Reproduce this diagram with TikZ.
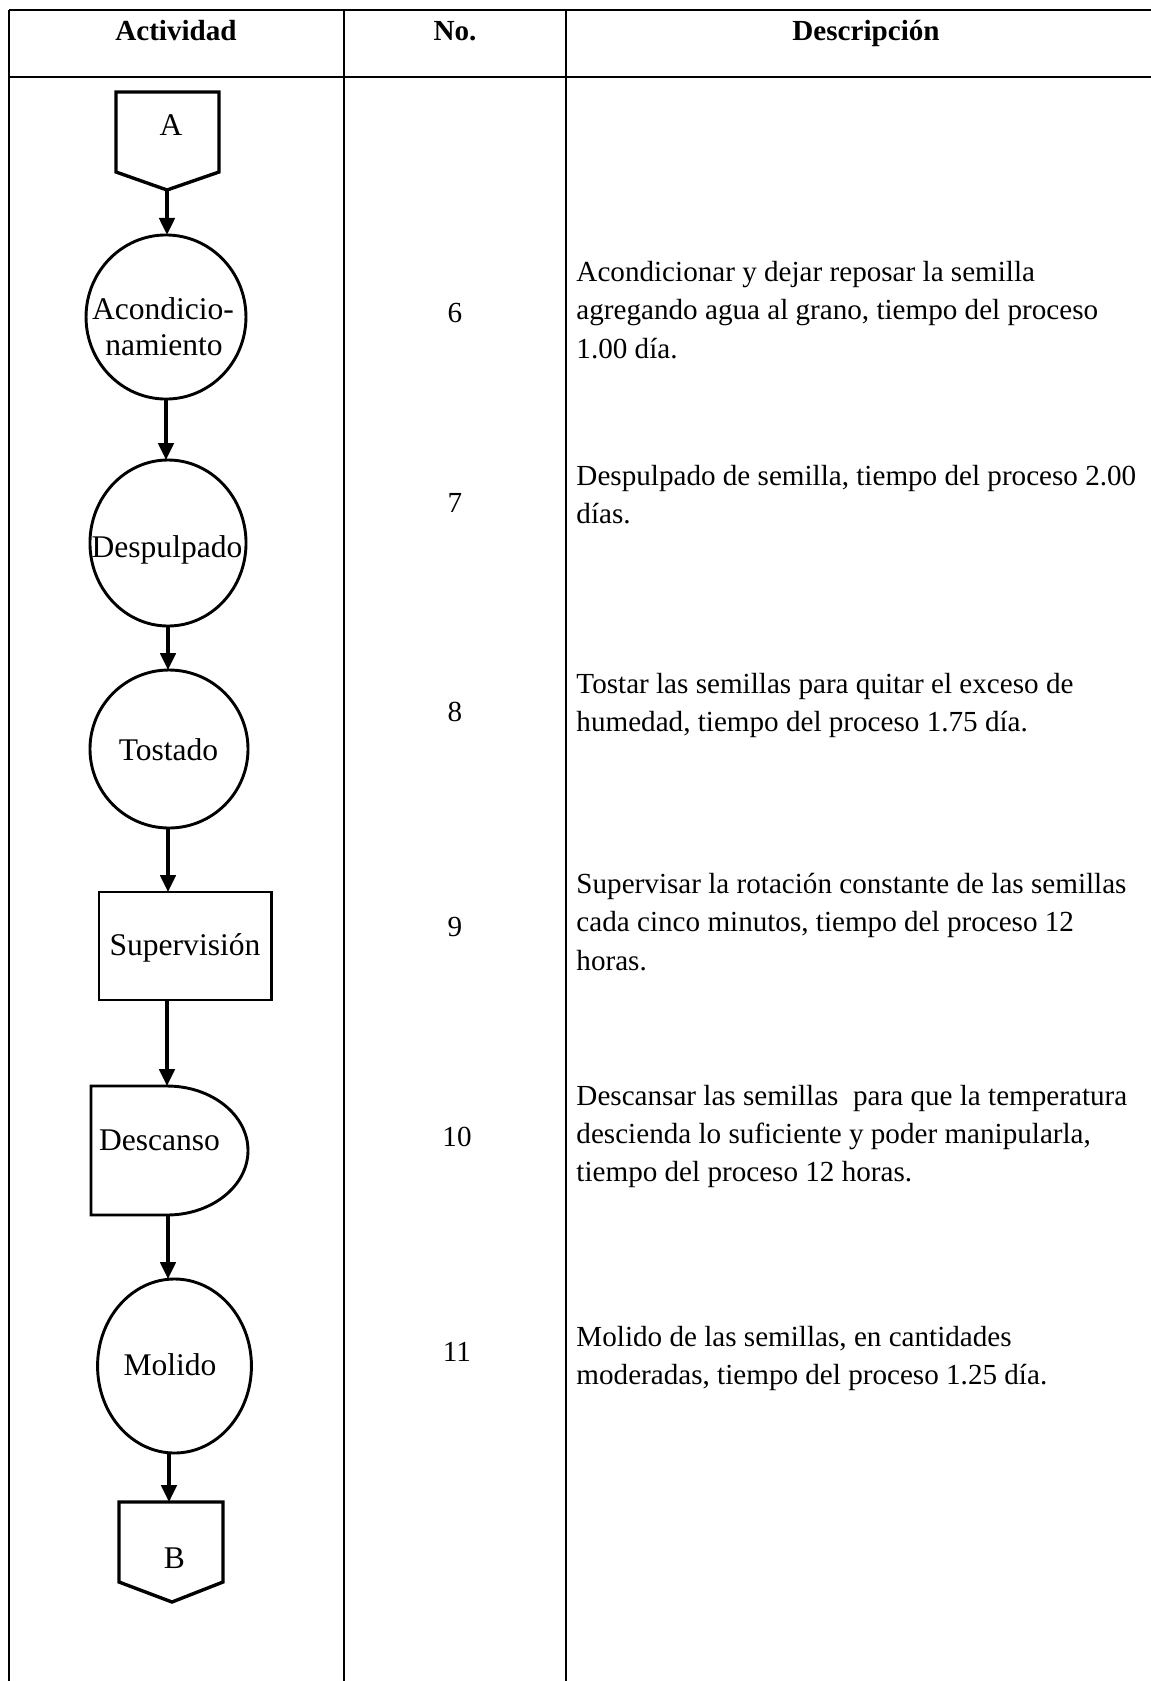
\documentclass[tikz,border=0pt]{standalone}
\usepackage{fontspec}
\setmainfont{Liberation Serif}
\usetikzlibrary{shapes.geometric,arrows.meta}
\begin{document}
\begin{tikzpicture}[x=0.412pt,y=-0.412pt,
  tbl/.style={line width=0.8pt},
  shp/.style={draw, line width=1.2pt},
  pent/.style={draw, line width=1.4pt, line join=miter},
  ell/.style={shp, ellipse, inner sep=0pt, outer sep=0pt},
  arr/.style={line width=1.3pt, -{Triangle[length=7pt,width=6.4pt]}},
  hdr/.style={font=\fontsize{12}{14}\selectfont\bfseries, inner sep=0pt, anchor=base},
  lbl/.style={font=\fontsize{13}{14.8}\selectfont, inner sep=0pt, anchor=base},
  num/.style={font=\fontsize{12}{14}\selectfont, inner sep=0pt},
  desc/.style={font=\fontsize{12}{15.8}\selectfont, inner sep=0pt, anchor=west, align=left}]
\useasboundingbox[fill=white] (0,0) rectangle (1151,1681);

% table frame
\draw[tbl] (9,10) -- (1151,10);
\draw[tbl] (9,77) -- (1151,77);
\draw[tbl] (9,10) -- (9,1681);
\draw[tbl] (344,10) -- (344,1681);
\draw[tbl] (566,10) -- (566,1681);

% headers
\node[hdr] (h1) at (176,40) {Actividad};
\node[hdr] (h2) at (455,40) {No.};
\node[hdr] (h3) at (866,40) {Descripción};

% connector A
\draw[pent] (116,92) -- (219,92) -- (219,172) -- (167,190) -- (116,172) -- cycle;
\coordinate (Apt) at (167,190);
\node[lbl] (A) at (171,135) {A};

% Acondicionamiento
\node[ell, minimum width=65.9pt, minimum height=67.6pt] (c1) at (166,317) {};
\node[lbl] (c1a) at (163,319) {Acondicio-};
\node[lbl] (c1b) at (164,355) {namiento};

% Despulpado
\node[ell, minimum width=64.3pt, minimum height=68.4pt] (c2) at (168,543) {};
\node[lbl] (c2t) at (167,557) {Despulpado};

% Tostado
\node[ell, minimum width=65.1pt, minimum height=65.1pt] (c3) at (169,749) {};
\node[lbl] (c3t) at (168.5,760) {Tostado};

% Supervision
\node[shp, rectangle, inner sep=0pt, outer sep=0pt, minimum width=70.9pt, minimum height=44.5pt] (c4) at (185,946) {};
\node[lbl] (c4t) at (185,955) {Supervisión};

% Descanso (delay)
\draw[shp] (91,1086) -- (167,1086) .. controls (211.7,1086) and (248,1114.9) .. (248,1150.5)
  .. controls (248,1186.1) and (211.7,1215) .. (167,1215) -- (91,1215) -- cycle;
\coordinate (Dtop) at (167,1086);
\coordinate (Dbot) at (168,1215);
\node[lbl] (c5t) at (159.5,1150) {Descanso};

% Molido
\node[ell, minimum width=63.4pt, minimum height=71.7pt] (c6) at (174.5,1366) {};
\node[lbl] (c6t) at (170,1375) {Molido};

% connector B
\draw[pent] (119,1502) -- (223,1502) -- (223,1582) -- (172,1602) -- (119,1582) -- cycle;
\coordinate (Btop) at (169,1502);
\node[lbl] (B) at (174.5,1568) {B};

% arrows
\draw[arr] (Apt) -- (Apt |- c1.north);
\draw[arr] (c1.south) -- (c1.south |- c2.north);
\draw[arr] (c2.south) -- (c2.south |- c3.north);
\draw[arr] (c2.south |- c3.south) -- (c2.south |- c4.north);
\draw[arr] (Dtop |- c4.south) -- (Dtop);
\draw[arr] (Dbot) -- (Dbot |- c6.north);
\draw[arr] (Btop |- c6.south) -- (Btop);

% numbers
\node[num] (n6) at (455,313) {6};
\node[num] (n7) at (455,503) {7};
\node[num] (n8) at (455,712) {8};
\node[num] (n9) at (455,927) {9};
\node[num] (n10) at (457,1137) {10};
\node[num] (n11) at (457,1352) {11};

% descriptions
\node[desc] (d6) at (576,312) {\strut Acondicionar y dejar reposar la semilla\\\strut agregando agua al grano, tiempo del proceso\\\strut 1.00 día.};
\node[desc] (d7) at (576,496.5) {\strut Despulpado de semilla, tiempo del proceso 2.00\\\strut días.};
\node[desc] (d8) at (576,705) {\strut Tostar las semillas para quitar el exceso de\\\strut humedad, tiempo del proceso 1.75 día.};
\node[desc] (d9) at (576,924) {\strut Supervisar la rotación constante de las semillas\\\strut cada cinco minutos, tiempo del proceso 12\\\strut horas.};
\node[desc] (d10) at (576,1135.7) {\strut Descansar las semillas\ \ para que la temperatura\\\strut descienda lo suficiente y poder manipularla,\\\strut tiempo del proceso 12 horas.};
\node[desc] (d11) at (576,1357.5) {\strut Molido de las semillas, en cantidades\\\strut moderadas, tiempo del proceso 1.25 día.};
\end{tikzpicture}
\end{document}
